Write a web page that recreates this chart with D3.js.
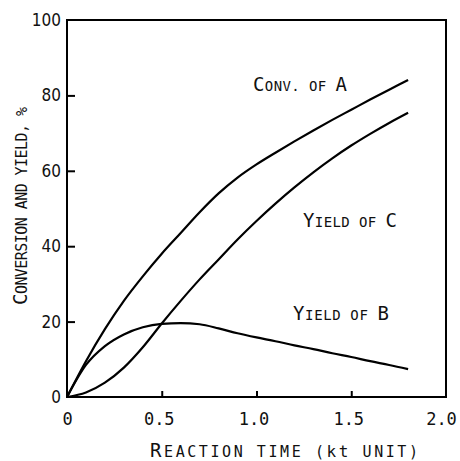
<!DOCTYPE html>
<html lang="en">
<head>
<meta charset="UTF-8">
<title>Conversion and yield</title>
<script src="https://cdn.jsdelivr.net/npm/d3@7"></script>
<style>
  body { margin: 0; background: #fff; }
</style>
</head>
<body>
<svg id="chart" width="460" height="461"></svg>
<script>
// values
const time   = [0, 0.1, 0.2, 0.3, 0.4, 0.5, 0.6, 0.7, 0.8, 0.9, 1.0, 1.1, 1.2, 1.3, 1.4, 1.5, 1.6, 1.7, 1.8];
const convA  = [0, 9.5, 18, 25.5, 32, 38, 43.5, 49, 54, 58.2, 61.7, 64.8, 67.8, 70.7, 73.5, 76.2, 78.9, 81.5, 84.1];
const yieldB = [0, 8.5, 13.5, 16.6, 18.5, 19.4, 19.6, 19.3, 18.2, 16.9, 15.8, 14.8, 13.7, 12.7, 11.6, 10.6, 9.5, 8.5, 7.4];
const yieldC = [0, 1.2, 3.8, 7.8, 13.2, 19.5, 25.5, 31.2, 36.5, 41.8, 46.7, 51.3, 55.6, 59.6, 63.3, 66.7, 69.8, 72.7, 75.4];
const xTicks = [0, 0.5, 1.0, 1.5, 2.0];
const yTicks = [0, 20, 40, 60, 80, 100];

const svg = d3.select("#chart");
const box = { left: 67, right: 446, top: 20, bottom: 397 };

const x = d3.scaleLinear().domain([0, 2]).range([box.left, box.right]);
const y = d3.scaleLinear().domain([0, 100]).range([box.bottom, box.top]);

// frame
svg.append("rect")
  .attr("x", box.left).attr("y", box.top)
  .attr("width", box.right - box.left).attr("height", box.bottom - box.top)
  .attr("fill", "none").attr("stroke", "#000").attr("stroke-width", 2);

// y axis, ticks pointing inward
const gy = svg.append("g")
  .attr("transform", `translate(${box.left},0)`)
  .call(d3.axisLeft(y).tickValues(yTicks).tickSize(-8).tickPadding(6).tickFormat(d3.format("d")));
gy.select(".domain").remove();
gy.selectAll(".tick line").attr("stroke-width", 2).attr("display", d => (d === 0 || d === 100) ? "none" : null);
gy.selectAll("text")
  .attr("font-family", "'DejaVu Sans Condensed', 'Liberation Sans Narrow', sans-serif")
  .attr("font-size", 17).attr("fill", "#111");

// x axis
const gx = svg.append("g")
  .attr("transform", `translate(0,${box.bottom})`)
  .call(d3.axisBottom(x).tickValues(xTicks).tickSize(-6).tickPadding(16)
    .tickFormat(d => d === 0 ? "0" : d3.format(".1f")(d)));
gx.select(".domain").remove();
gx.selectAll(".tick line").attr("stroke-width", 2).attr("display", d => (d === 0 || d === 2) ? "none" : null);
gx.selectAll("text")
  .attr("font-family", "'DejaVu Sans Mono', monospace")
  .attr("font-size", 17).attr("fill", "#111")
  .attr("dx", d => d === 0 ? 0 : d === 2 ? -5 : -3);

// curves
const line = d3.line()
  .x((d, i) => x(time[i]))
  .y(d => y(d))
  .curve(d3.curveMonotoneX);

[convA, yieldB, yieldC].forEach(s => {
  svg.append("path")
    .datum(s)
    .attr("fill", "none")
    .attr("stroke", "#000")
    .attr("stroke-width", 2.2)
    .attr("d", line);
});

// small-caps text helper: segments of [text, fontSize]
function capsText(parts, px, py, len, rotate) {
  const t = svg.append("text")
    .attr("font-family", "'DejaVu Sans Mono', monospace")
    .attr("fill", "#111")
    .attr("textLength", len)
    .attr("lengthAdjust", "spacing");
  if (rotate) {
    t.attr("transform", `translate(${px},${py}) rotate(-90)`).attr("text-anchor", "middle");
  } else {
    t.attr("x", px).attr("y", py);
  }
  parts.forEach(p => t.append("tspan").attr("font-size", p[1]).text(p[0]));
  return t;
}

const big = 19, small = 14;
capsText([["C", big], ["ONV. OF ", small], ["A", big]], 253, 91, 94);
capsText([["Y", big], ["IELD OF ", small], ["C", big]], 303, 227, 94);
capsText([["Y", big], ["IELD OF ", small], ["B", big]], 293, 320, 96);

// axis titles
capsText([["R", 19], ["EACTION TIME (", 15], ["kt", 16], [" UNIT)", 15]], 150, 457, 268);
capsText([["C", 19], ["ONVERSION AND YIELD, %", 15]], 27, 206, 198, true);
</script>
</body>
</html>
